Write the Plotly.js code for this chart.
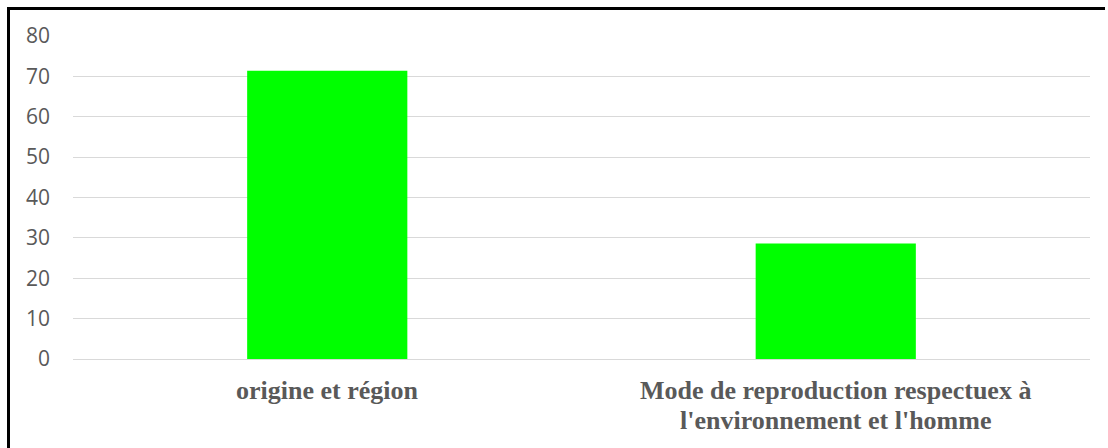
<!DOCTYPE html>
<html>
<head>
<meta charset="utf-8">
<script src="https://cdn.plot.ly/plotly-3.0.1.min.js"></script>
<style>
  html, body { margin: 0; padding: 0; background: #fff; overflow: hidden; }
  #wrap { position: relative; width: 1108px; height: 448px; }
  #chart { width: 1108px; height: 448px; }
  #frame { position: absolute; left: 7px; top: 7px; width: 1098px; height: 441px;
           border-left: 3px solid #000; border-top: 3px solid #000; border-right: none; border-bottom: none;
           pointer-events: none; box-sizing: border-box; }
</style>
</head>
<body>
<div id="wrap">
  <div id="chart"></div>
  <div id="frame"></div>
</div>
<script>
const categories = ["origine et région", "Mode de reproduction respectuex à l'environnement et l'homme"];
const categoryLines = [
  ["origine et région"],
  ["Mode de reproduction respectuex à", "l'environnement et l'homme"]
];
const values = [71.4, 28.6];
const yTicks = [0, 10, 20, 30, 40, 50, 60, 70, 80];

const trace = {
  type: 'bar',
  x: categories,
  y: values,
  marker: { color: '#00ff00' },
  hoverinfo: 'none'
};

const labelFont = { family: 'Liberation Serif, Times New Roman, serif', size: 26, color: '#595959', weight: 'bold' };
const annotations = [];
categories.forEach((cat, i) => {
  categoryLines[i].forEach((line, j) => {
    annotations.push({
      x: cat, xref: 'x',
      y: 0, yref: 'paper',
      yanchor: 'middle', xanchor: 'center',
      yshift: -31 - 30 * j,
      text: line,
      showarrow: false,
      font: labelFont
    });
  });
});

const layout = {
  width: 1108,
  height: 448,
  margin: { l: 73, r: 18, t: 36, b: 89 },
  paper_bgcolor: '#ffffff',
  plot_bgcolor: '#ffffff',
  showlegend: false,
  bargap: 0.685,
  annotations: annotations,
  xaxis: {
    type: 'category',
    showgrid: false,
    zeroline: false,
    showline: false,
    showticklabels: false,
    ticks: ''
  },
  yaxis: {
    range: [0, 80],
    tickvals: yTicks,
    ticktext: yTicks.map(String),
    showgrid: true,
    gridcolor: '#d9d9d9',
    gridwidth: 1,
    zeroline: true,
    zerolinecolor: '#d9d9d9',
    zerolinewidth: 1,
    showline: false,
    ticks: '',
    ticklabelstandoff: 22,
    tickfont: { family: 'Open Sans, sans-serif', size: 21, color: '#595959' }
  }
};

Plotly.newPlot('chart', [trace], layout, { staticPlot: true, displayModeBar: false });
</script>
</body>
</html>
